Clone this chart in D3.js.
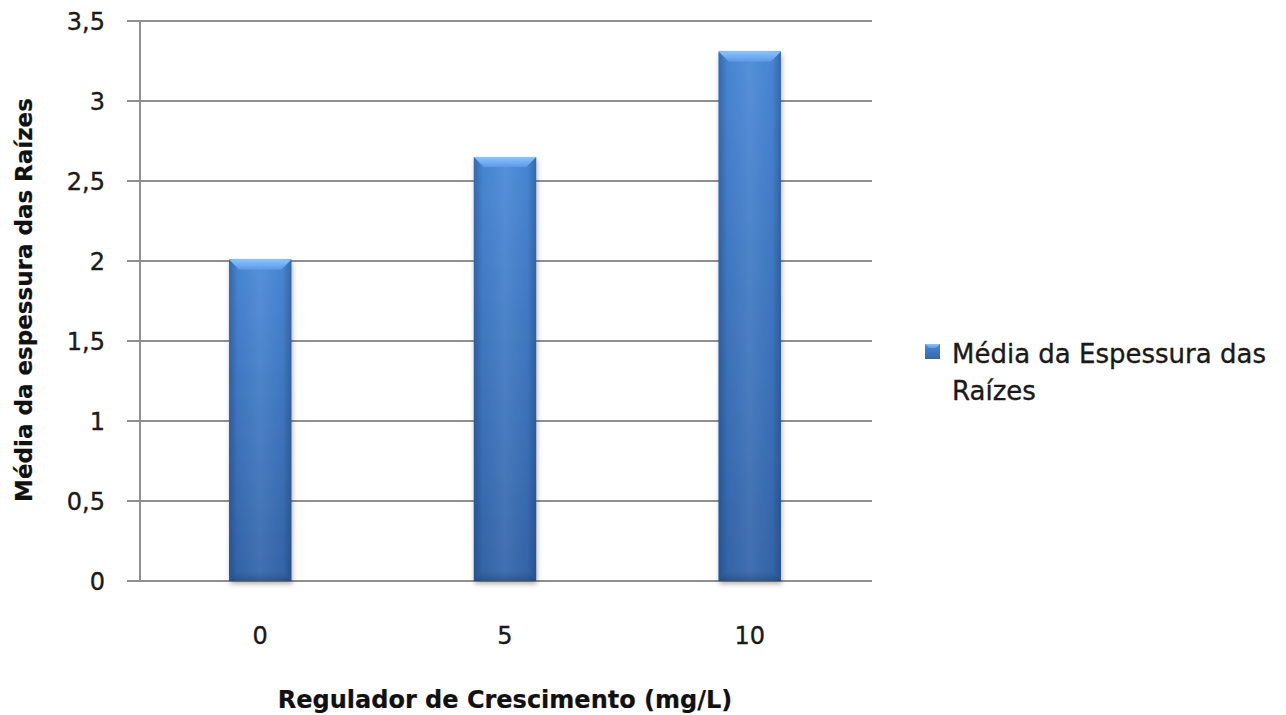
<!DOCTYPE html>
<html>
<head>
<meta charset="utf-8">
<script src="https://cdn.jsdelivr.net/npm/d3@7"></script>
<style>
  html, body { margin: 0; padding: 0; background: #fff; }
  svg { display: block; }
  text { font-family: "DejaVu Sans", Verdana, sans-serif; fill: #1a1a1a; stroke: #1a1a1a; stroke-width: 0.35px; }
  text.title { stroke-width: 0.2px; fill: #111; stroke: #111; }
</style>
</head>
<body>
<svg id="chart" width="1286" height="715"></svg>
<script>
// Root thickness by growth-regulator dose
const categories = ["0", "5", "10"];
const values = [2.01, 2.65, 3.31];
const yTicks = [0, 0.5, 1, 1.5, 2, 2.5, 3, 3.5];
const seriesName = ["Média da Espessura das", "Raízes"];
const xTitle = "Regulador de Crescimento (mg/L)";
const yTitle = "Média da espessura das Raízes";

const svg = d3.select("#chart");
const plot = { left: 140, right: 872, top: 21, bottom: 581 };

const x = d3.scaleBand().domain(categories)
  .range([plot.left - 2, plot.right]).paddingInner(0.745).paddingOuter(0.372);
const y = d3.scaleLinear().domain([0, 3.5]).range([plot.bottom, plot.top]);

const defs = svg.append("defs");
const vGrad = defs.append("linearGradient").attr("id", "barV")
  .attr("x1", 0).attr("y1", 0).attr("x2", 0).attr("y2", 1);
vGrad.append("stop").attr("offset", "0%").attr("stop-color", "#4b8ad8");
vGrad.append("stop").attr("offset", "100%").attr("stop-color", "#3566aa");

const hGrad = defs.append("linearGradient").attr("id", "barH")
  .attr("x1", 0).attr("y1", 0).attr("x2", 1).attr("y2", 0);
hGrad.append("stop").attr("offset", "0%").attr("stop-color", "#0d2a55").attr("stop-opacity", 0.35);
hGrad.append("stop").attr("offset", "14%").attr("stop-color", "#0d2a55").attr("stop-opacity", 0.05);
hGrad.append("stop").attr("offset", "50%").attr("stop-color", "#ffffff").attr("stop-opacity", 0.06);
hGrad.append("stop").attr("offset", "86%").attr("stop-color", "#0d2a55").attr("stop-opacity", 0.05);
hGrad.append("stop").attr("offset", "100%").attr("stop-color", "#0d2a55").attr("stop-opacity", 0.35);

const topGrad = defs.append("linearGradient").attr("id", "barTop")
  .attr("x1", 0).attr("y1", 0).attr("x2", 0).attr("y2", 1);
topGrad.append("stop").attr("offset", "0%").attr("stop-color", "#8cc4ff");
topGrad.append("stop").attr("offset", "100%").attr("stop-color", "#5d9ae6");

const botGrad = defs.append("linearGradient").attr("id", "barBottom")
  .attr("x1", 0).attr("y1", 0).attr("x2", 0).attr("y2", 1);
botGrad.append("stop").attr("offset", "0%").attr("stop-color", "#24508c").attr("stop-opacity", 0);
botGrad.append("stop").attr("offset", "100%").attr("stop-color", "#1e4478").attr("stop-opacity", 0.5);

const shadow = defs.append("filter").attr("id", "shadow")
  .attr("x", "-20%").attr("y", "-5%").attr("width", "140%").attr("height", "115%");
shadow.append("feDropShadow").attr("dx", 1).attr("dy", 3).attr("stdDeviation", 2.5)
  .attr("flood-color", "#000").attr("flood-opacity", 0.3);

const soft = defs.append("filter").attr("id", "soft");
soft.append("feGaussianBlur").attr("stdDeviation", 0.5);

// gridlines with small outward ticks
const grid = svg.append("g").attr("filter", "url(#soft)");
grid.selectAll("line.grid").data(yTicks).join("line")
  .attr("class", "grid")
  .attr("x1", plot.left - 13).attr("x2", plot.right)
  .attr("y1", d => y(d)).attr("y2", d => y(d))
  .attr("stroke", "#8f8f8f").attr("stroke-width", 2);
grid.append("line")
  .attr("x1", plot.left).attr("x2", plot.left)
  .attr("y1", plot.top).attr("y2", plot.bottom)
  .attr("stroke", "#8f8f8f").attr("stroke-width", 2);

// y tick labels
const fmt = d => String(d).replace(".", ",");
svg.append("g").selectAll("text").data(yTicks).join("text")
  .attr("x", 105).attr("y", d => y(d)).attr("dy", "0.36em")
  .attr("text-anchor", "end").style("font-size", "24px")
  .text(fmt);

// bars
const bw = x.bandwidth();
const bars = svg.append("g").selectAll("g.bar")
  .data(categories.map((c, i) => ({ c, v: values[i] })))
  .join("g").attr("class", "bar");

bars.append("rect")
  .attr("x", d => x(d.c)).attr("y", d => y(d.v))
  .attr("width", bw).attr("height", d => y(0) - y(d.v))
  .attr("fill", "url(#barV)").attr("filter", "url(#shadow)");
bars.append("rect")
  .attr("x", d => x(d.c)).attr("y", d => y(d.v))
  .attr("width", bw).attr("height", d => y(0) - y(d.v))
  .attr("fill", "url(#barH)");
const bev = 10;
bars.append("polygon")
  .attr("points", d => {
    const x0 = x(d.c), x1 = x0 + bw, t = y(d.v);
    return [[x0, t], [x1, t], [x1 - bev, t + bev], [x0 + bev, t + bev]].join(" ");
  })
  .attr("fill", "url(#barTop)");
bars.append("polygon")
  .attr("points", d => {
    const x0 = x(d.c), x1 = x0 + bw, b = y(0);
    return [[x0, b], [x1, b], [x1 - bev, b - bev], [x0 + bev, b - bev]].join(" ");
  })
  .attr("fill", "url(#barBottom)");

// category labels
svg.append("g").selectAll("text").data(categories).join("text")
  .attr("x", d => x(d) + bw / 2).attr("y", 635).attr("dy", "0.36em")
  .attr("text-anchor", "middle").style("font-size", "24px")
  .text(d => d);

// axis titles
svg.append("text").attr("class", "title")
  .attr("x", 505).attr("y", 699).attr("dy", "0.36em")
  .attr("text-anchor", "middle").style("font-size", "24px").style("font-weight", "bold")
  .text(xTitle);
svg.append("text").attr("class", "title")
  .attr("transform", "translate(24,300) rotate(-90)")
  .attr("dy", "0.36em")
  .attr("text-anchor", "middle").style("font-size", "23px").style("font-weight", "bold")
  .text(yTitle);

// legend
const lg = svg.append("g").attr("transform", "translate(925,344)");
lg.append("rect").attr("width", 15).attr("height", 15).attr("fill", "url(#barV)");
lg.append("polygon").attr("points", "0,0 15,0 11,4 4,4").attr("fill", "url(#barTop)");
lg.selectAll("text").data(seriesName).join("text")
  .attr("x", 27).attr("y", (d, i) => 10 + i * 37).attr("dy", "0.36em")
  .style("font-size", "26px")
  .text(d => d);
</script>
</body>
</html>
